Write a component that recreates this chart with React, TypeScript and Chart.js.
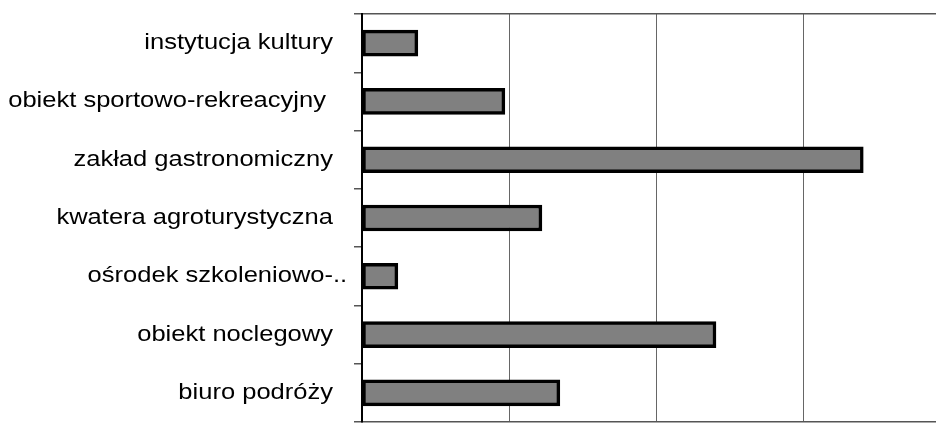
import React, { useEffect, useRef } from "react";
import { Chart, registerables } from "chart.js";

Chart.register(...registerables);

const categories = [
  "instytucja kultury",
  "obiekt sportowo-rekreacyjny ",
  "zakład gastronomiczny",
  "kwatera agroturystyczna",
  "ośrodek szkoleniowo-..",
  "obiekt noclegowy",
  "biuro podróży",
];
const values = [1.9, 4.86, 17.05, 6.12, 1.22, 12.04, 6.73];
const axisMax = 20;
const axisStep = 5;

const LABEL_SIZE = 22;
const STRETCH = 1.16;
const LABEL_RIGHT = 333;

const labelPlugin = {
  id: "stretchLabels",
  afterDraw(chart: any) {
    const ctx = chart.ctx as CanvasRenderingContext2D;
    const y = chart.scales.y;
    ctx.save();
    ctx.font = `${LABEL_SIZE}px "Liberation Sans", Arial, sans-serif`;
    ctx.fillStyle = "#000";
    ctx.textBaseline = "middle";
    categories.forEach((c, i) => {
      const yy = y.getPixelForValue(i);
      ctx.save();
      ctx.translate(LABEL_RIGHT, yy);
      ctx.scale(STRETCH, 1);
      let main = c;
      let tail = "";
      const m = c.match(/^(.*?)(\.+)$/);
      if (m) {
        main = m[1];
        tail = m[2];
      }
      ctx.textAlign = "right";
      ctx.fillText(main, 0, 0);
      if (tail) {
        ctx.textAlign = "left";
        ctx.fillText(tail, 0, 0);
      }
      ctx.restore();
    });
    ctx.restore();
  },
};

export default function App() {
  const ref = useRef<HTMLCanvasElement>(null);
  useEffect(() => {
    if (!ref.current) return;
    const chart = new Chart(ref.current, {
      type: "bar",
      data: {
        labels: categories,
        datasets: [
          {
            data: values,
            backgroundColor: "#808080",
            borderColor: "#000000",
            borderWidth: 3.5,
            borderSkipped: false,
            barThickness: 26,
          },
        ],
      },
      plugins: [labelPlugin],
      options: {
        indexAxis: "y",
        animation: false,
        responsive: false,
        layout: { padding: { top: 14, bottom: 8, right: 40, left: 0 } },
        plugins: { legend: { display: false }, tooltip: { enabled: false } },
        scales: {
          x: {
            position: "bottom",
            min: 0,
            max: axisMax,
            ticks: { display: false, stepSize: axisStep },
            grid: { color: "#666666", lineWidth: 1, drawTicks: false },
            border: { display: true, color: "#555555", width: 1.5 },
            afterFit: (s: any) => {
              s.height = 0;
            },
          },
          xTop: {
            type: "linear",
            position: "top",
            min: 0,
            max: axisMax,
            ticks: { display: false },
            grid: { display: false, drawTicks: false },
            border: { display: true, color: "#555555", width: 1.5 },
            afterFit: (s: any) => {
              s.height = 0;
            },
          },
          y: {
            ticks: { display: false },
            grid: {
              drawOnChartArea: false,
              drawTicks: true,
              tickLength: 8,
              offset: true,
              color: "#555555",
              lineWidth: 1.5,
            },
            border: { display: true, color: "#000000", width: 2 },
            afterFit: (s: any) => {
              s.width = 362;
            },
          },
        },
      } as any,
    });
    return () => chart.destroy();
  }, []);
  return (
    <div
      style={{
        position: "fixed",
        left: 0,
        top: 0,
        width: 936,
        height: 423,
        overflow: "hidden",
        background: "#fff",
      }}
    >
      <canvas ref={ref} width={990} height={430} style={{ display: "block" }} />
    </div>
  );
}
